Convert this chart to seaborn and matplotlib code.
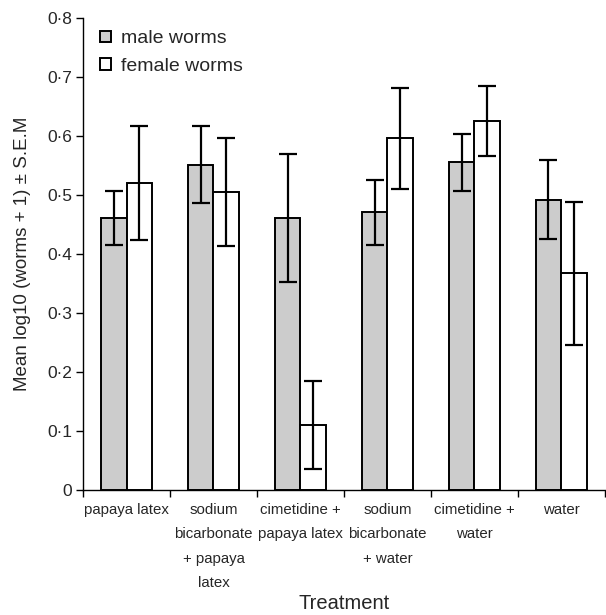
import matplotlib
matplotlib.use("Agg")
import matplotlib.pyplot as plt
from matplotlib.patches import Patch
import seaborn as sns
import pandas as pd
import numpy as np

treatments = ["papaya latex", "sodium\nbicarbonate\n+ papaya\nlatex", "cimetidine +\npapaya latex",
              "sodium\nbicarbonate\n+ water", "cimetidine +\nwater", "water"]
male_mean = [0.461, 0.551, 0.461, 0.471, 0.555, 0.492]
male_sem = [0.045, 0.065, 0.108, 0.055, 0.049, 0.067]
female_mean = [0.520, 0.505, 0.110, 0.596, 0.625, 0.367]
female_sem = [0.097, 0.092, 0.075, 0.086, 0.059, 0.121]
groups = ["male worms", "female worms"]
y_ticks = [0, 0.1, 0.2, 0.3, 0.4, 0.5, 0.6, 0.7, 0.8]
y_tick_labels = ["0", "0·1", "0·2", "0·3", "0·4", "0·5", "0·6", "0·7", "0·8"]

df = pd.DataFrame({
    "Treatment": treatments * 2,
    "value": male_mean + female_mean,
    "group": [groups[0]] * 6 + [groups[1]] * 6,
})

sns.set_style("white")
plt.rcParams["font.family"] = ["Liberation Sans", "DejaVu Sans"]

fig = plt.figure(figsize=(6.06, 6.15), dpi=100)
ax = fig.add_axes([0.137, 0.203, 0.861, 0.768])

colors = {"male worms": "#cccccc", "female worms": "#ffffff"}
sns.barplot(data=df, x="Treatment", y="value", hue="group", palette=colors,
            errorbar=None, width=0.59, edgecolor="black", linewidth=1.4,
            legend=False, ax=ax)

sems = [male_sem, female_sem]
for cont, sem in zip(ax.containers, sems):
    xs = [b.get_x() + b.get_width() / 2 for b in cont]
    ys = [b.get_height() for b in cont]
    ax.errorbar(xs, ys, yerr=sem, fmt="none", ecolor="black", elinewidth=1.6,
                capsize=6.5, capthick=1.6, zorder=5)

ax.set_xlim(-0.5, 5.5)
ax.set_ylim(0, 0.8)
ax.set_yticks(y_ticks)
ax.set_yticklabels(y_tick_labels, fontsize=12.5)
ax.tick_params(axis="y", direction="out", length=5, width=1, left=True, color="black", pad=3)
ax.set_xticks(range(6))
ax.set_xticklabels(treatments, fontsize=10.8, linespacing=1.95, va="top")
ax.tick_params(axis="x", which="major", length=0, pad=9)
ax.set_xticks(np.arange(-0.5, 6, 1.0), minor=True)
ax.tick_params(axis="x", which="minor", direction="out", length=5, width=1, bottom=True, color="black")

for s in ["top", "right"]:
    ax.spines[s].set_visible(False)
for s in ["left", "bottom"]:
    ax.spines[s].set_color("black")
    ax.spines[s].set_linewidth(1.0)

ax.set_ylabel("Mean log10 (worms + 1) ± S.E.M", fontsize=13.5, labelpad=11.5)
ax.set_xlabel("Treatment", fontsize=14.5, labelpad=3)

handles = [Patch(facecolor=colors[g], edgecolor="black", linewidth=1.4, label=g) for g in groups]
ax.legend(handles=handles, loc="upper left", bbox_to_anchor=(0.018, 0.99), frameon=False,
          fontsize=14, handlelength=0.55, handleheight=0.55, handletextpad=0.5,
          labelspacing=0.55, borderaxespad=0.0)

fig.savefig("out.png", dpi=100)
